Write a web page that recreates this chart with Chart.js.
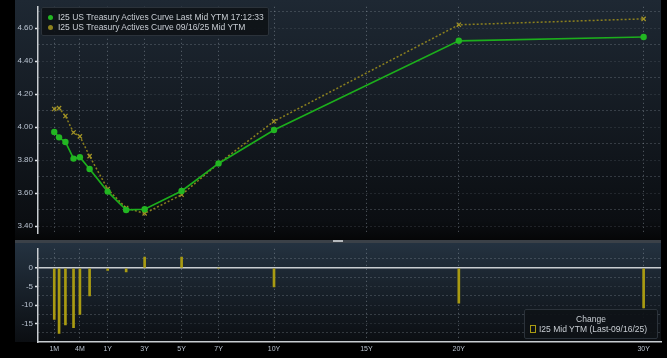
<!DOCTYPE html>
<html>
<head>
<meta charset="utf-8">
<script src="https://cdn.jsdelivr.net/npm/chart.js@4.4.1/dist/chart.umd.min.js"></script>
<style>
  html, body { margin: 0; padding: 0; background: #000; }
  #wrap { position: relative; width: 667px; height: 358px; background: #000; overflow: hidden;
          font-family: "Liberation Sans", Arial, sans-serif; }
  #bg-top { position: absolute; left: 15px; top: 0; width: 646px; height: 240px;
            background: linear-gradient(#1e2833, #0b0e12 92%, #050607); }
  #bg-bot { position: absolute; left: 15px; top: 243px; width: 646px; height: 99px;
            background: linear-gradient(#243240, #0b0e12); }
  #sep { position: absolute; left: 15px; top: 240px; width: 646px; height: 3px; background: #3b4148; }
  #handle { position: absolute; left: 333px; top: 240px; width: 10px; height: 2px; background: #b5b9bd; }
  canvas { position: absolute; left: 0; }
  #top-chart { top: 0; }
  #bot-chart { top: 242px; }
  .legend { position: absolute; background: rgba(14, 18, 23, 0.92); border: 1px solid #2b323a;
            border-radius: 2px; color: #c9ced4; font-size: 8.5px; line-height: 9.5px; box-sizing: border-box;
            white-space: nowrap; }
  #legend-top { left: 41px; top: 7px; width: 228px; height: 29px; padding: 5px 0 0 6px; }
  #legend-bot { left: 524px; top: 309px; width: 134px; height: 30px; padding: 5px 0 0 5px; }
  .dot { display: inline-block; width: 5px; height: 5px; border-radius: 50%; margin-right: 5px; vertical-align: 0px; }
  .box { display: inline-block; width: 4px; height: 6px; border: 1px solid #a99b12; margin-right: 3px; vertical-align: -1px; }
</style>
</head>
<body>
<div id="wrap">
  <div id="bg-top"></div>
  <div id="bg-bot"></div>
  <div id="sep"></div>
  <div id="handle"></div>
  <canvas id="top-chart" width="667" height="240"></canvas>
  <canvas id="bot-chart" width="667" height="116"></canvas>
  <div id="legend-top" class="legend">
    <div><span class="dot" style="background:#22b622"></span>I25 US Treasury Actives Curve Last Mid YTM 17:12:33</div>
    <div><span class="dot" style="background:#8e821e"></span>I25 US Treasury Actives Curve 09/16/25 Mid YTM</div>
  </div>
  <div id="legend-bot" class="legend">
    <div style="text-align:center;padding-right:5px">Change</div>
    <div><span class="box"></span>I25 Mid YTM (Last-09/16/25)</div>
  </div>
</div>
<script>
const tenorLabels = ["1M", "6W", "2M", "3M", "4M", "6M", "1Y", "2Y", "3Y", "5Y", "7Y", "10Y", "20Y", "30Y"];
const tenorYears = [1 / 12, 6 / 52, 2 / 12, 3 / 12, 4 / 12, 6 / 12, 1, 2, 3, 5, 7, 10, 20, 30];
const lastYtm = [3.970, 3.938, 3.910, 3.809, 3.818, 3.746, 3.609, 3.498, 3.502, 3.613, 3.780, 3.982, 4.523, 4.546];
const prevYtm = [4.110, 4.115, 4.067, 3.967, 3.944, 3.824, 3.624, 3.510, 3.477, 3.590, 3.780, 4.035, 4.620, 4.656];
const changeBp = [-13.9, -17.7, -15.4, -16.1, -12.5, -7.5, -0.6, -1.0, 3.0, 3.0, 0, -5.1, -9.5, -10.8];

const xTickLabels = ["1M", "4M", "1Y", "3Y", "5Y", "7Y", "10Y", "15Y", "20Y", "30Y"];
const xTickYears = [1 / 12, 4 / 12, 1, 3, 5, 7, 10, 15, 20, 30];
const ytmTicks = [3.4, 3.5, 3.6, 3.7, 3.8, 3.9, 4.0, 4.1, 4.2, 4.3, 4.4, 4.5, 4.6, 4.7];
const changeTicks = [-17.5, -15, -12.5, -10, -7.5, -5, -2.5, 0, 2.5];
const changeLabelTicks = [0, -5, -10, -15];

// tenor axis: linear in years from 1Y out, log-stretched for bills
const tenorAxis = (t) => (t >= 1 ? t : 1 + 1.613 * Math.log((t + 0.1) / 1.1));

const GRID = "rgba(150, 160, 172, 0.55)";
const GRID_SOFT = "rgba(120, 130, 142, 0.4)";
const AXIS = "#c9cdd1";
const LABEL = "#b9c3d0";

Chart.defaults.font.family = '"Liberation Sans", Arial, sans-serif';
Chart.defaults.animation = false;

function tenorScale(showLabels) {
  return {
    type: "linear",
    min: -2.77,
    max: 30.94,
    offset: false,
    afterBuildTicks: (s) => { s.ticks = xTickYears.map((t) => ({ value: tenorAxis(t) })); },
    afterFit: (s) => { s.height = showLabels ? 16 : 0; },
    ticks: {
      display: showLabels,
      autoSkip: false,
      maxRotation: 0,
      padding: 3,
      color: LABEL,
      font: { size: 7 },
      callback: (v, i) => xTickLabels[i],
    },
    grid: { color: GRID, lineWidth: 1, drawTicks: false, offset: false },
    border: { display: showLabels, color: AXIS, width: 1.5, dash: [1, 3] },
  };
}

const isYtmLabel = (v) => Math.round(v * 10) % 2 === 0;

new Chart(document.getElementById("top-chart"), {
  type: "line",
  data: {
    datasets: [
      {
        label: "Last Mid YTM",
        data: tenorYears.map((t, i) => ({ x: tenorAxis(t), y: lastYtm[i] })),
        borderColor: "#1cae1c",
        backgroundColor: "#22b622",
        borderWidth: 1.7,
        pointRadius: 3.2,
        pointBorderWidth: 0,
        tension: 0,
      },
      {
        label: "09/16/25 Mid YTM",
        data: tenorYears.map((t, i) => ({ x: tenorAxis(t), y: prevYtm[i] })),
        borderColor: "#8c801e",
        borderWidth: 1.5,
        borderDash: [2, 2],
        pointStyle: "crossRot",
        pointRadius: 3,
        pointBorderColor: "#a39426",
        pointBorderWidth: 1.2,
        tension: 0,
      },
    ],
  },
  options: {
    responsive: false,
    devicePixelRatio: 1,
    layout: { padding: { left: 0, right: 6, top: 0, bottom: 0 } },
    plugins: { legend: { display: false }, tooltip: { enabled: false } },
    scales: {
      x: tenorScale(false),
      y: {
        min: 3.357,
        max: 4.729,
        afterBuildTicks: (s) => { s.ticks = ytmTicks.map((v) => ({ value: v })); },
        afterFit: (s) => { s.width = 38; },
        ticks: {
          autoSkip: false,
          padding: 2,
          color: LABEL,
          font: { size: 8 },
          callback: (v) => (isYtmLabel(v) ? v.toFixed(2) : ""),
        },
        grid: {
          color: (c) => (c.tick && isYtmLabel(c.tick.value) ? GRID_SOFT : GRID),
          tickColor: (c) => (c.tick && isYtmLabel(c.tick.value) ? "#e0e4e8" : "transparent"),
          tickLength: 3,
          tickWidth: 1.5,
        },
        border: { color: AXIS, width: 1.5, dash: [1, 3] },
      },
    },
  },
});

new Chart(document.getElementById("bot-chart"), {
  type: "bar",
  data: {
    datasets: [
      {
        label: "I25 Mid YTM (Last-09/16/25)",
        data: tenorYears.map((t, i) => ({ x: tenorAxis(t), y: changeBp[i] })),
        backgroundColor: "#a99b12",
        barThickness: 2,
      },
    ],
  },
  options: {
    responsive: false,
    devicePixelRatio: 1,
    layout: { padding: { left: 0, right: 6, top: 0, bottom: 0 } },
    plugins: { legend: { display: false }, tooltip: { enabled: false } },
    scales: {
      x: tenorScale(true),
      y: {
        min: -20,
        max: 5.25,
        afterBuildTicks: (s) => { s.ticks = changeTicks.map((v) => ({ value: v })); },
        afterFit: (s) => { s.width = 38; },
        ticks: {
          autoSkip: false,
          padding: 2,
          color: LABEL,
          font: { size: 8 },
          callback: (v) => (changeLabelTicks.includes(v) ? String(v) : ""),
        },
        grid: {
          color: (c) => {
            if (!c.tick) return GRID;
            if (c.tick.value === 0) return AXIS;
            return changeLabelTicks.includes(c.tick.value) ? GRID_SOFT : GRID;
          },
          lineWidth: (c) => (c.tick && c.tick.value === 0 ? 1.5 : 1),
          tickColor: (c) => (c.tick && changeLabelTicks.includes(c.tick.value) ? "#e0e4e8" : "transparent"),
          tickLength: 3,
          tickWidth: 1.5,
        },
        border: {
          color: AXIS,
          width: 1.5,
          dash: (c) => (c.tick && c.tick.value === 0 ? [] : [1, 3]),
        },
      },
    },
  },
});
</script>
</body>
</html>
